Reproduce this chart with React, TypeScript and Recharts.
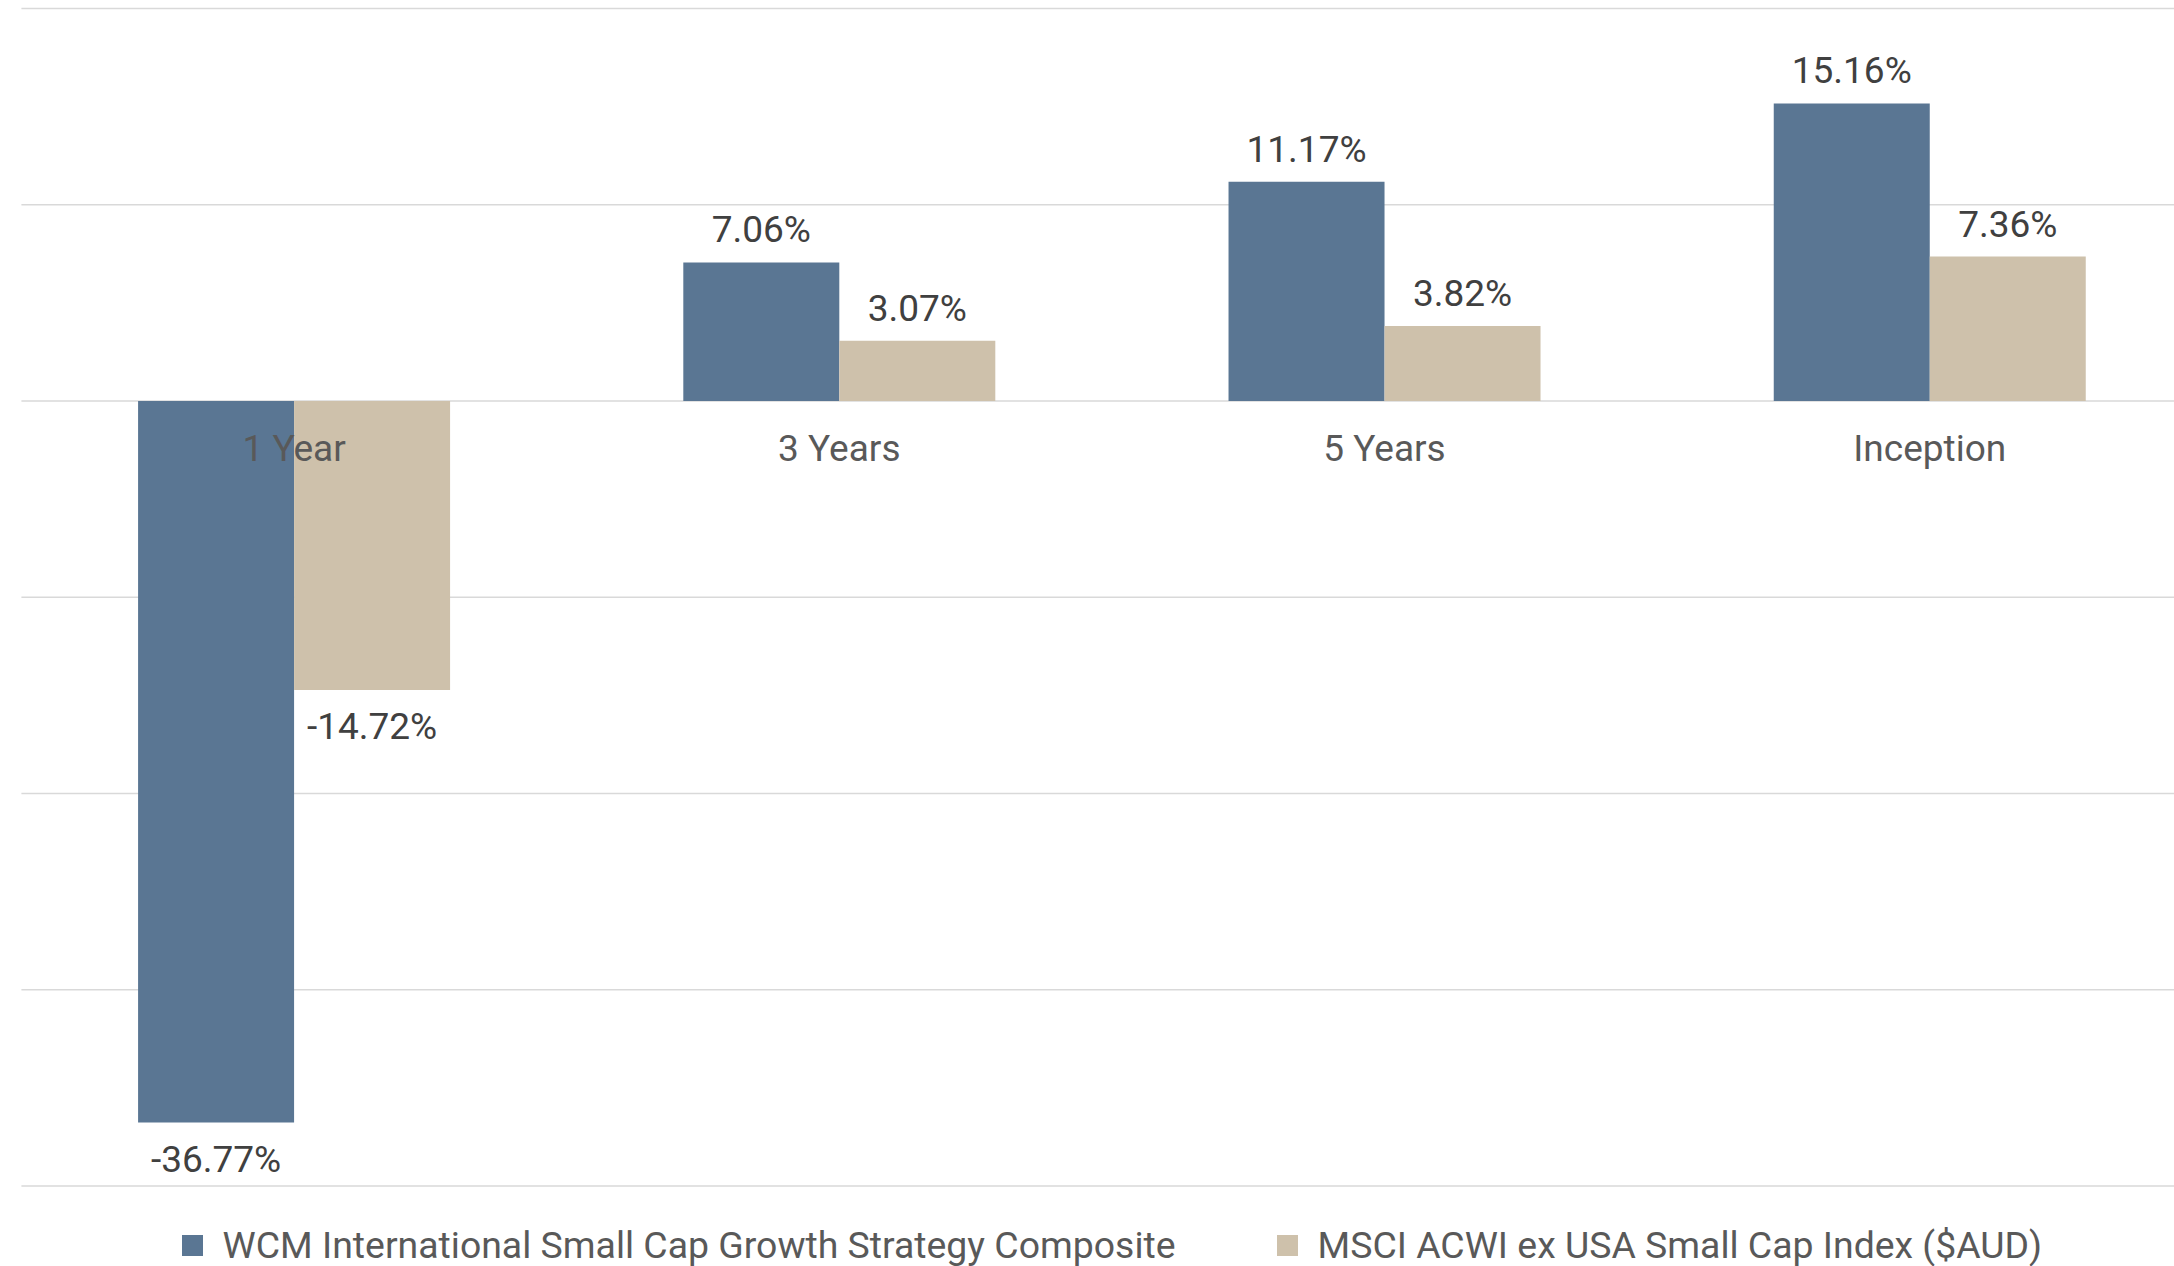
import React from 'react';
import { BarChart, Bar, XAxis, YAxis, CartesianGrid, Legend, LabelList } from 'recharts';

const categories = ['1 Year', '3 Years', '5 Years', 'Inception'];
const strategy = [-36.77, 7.06, 11.17, 15.16];
const benchmark = [-14.72, 3.07, 3.82, 7.36];
const yTicks = [-40, -30, -20, -10, 0, 10, 20];

const SERIES = [
  { key: 'strategy', name: 'WCM International Small Cap Growth Strategy Composite', color: '#5A7693' },
  { key: 'benchmark', name: 'MSCI ACWI ex USA Small Cap Index ($AUD)', color: '#CEC1AB' },
];

const data = categories.map((name, i) => ({ name, strategy: strategy[i], benchmark: benchmark[i] }));

const FONT = 'Roboto, "Noto Sans", sans-serif';

const ValueLabel = (props: any) => {
  const { viewBox, value } = props;
  if (!viewBox || value == null) return null;
  const { x, y, width, height } = viewBox;
  const top = Math.min(y, y + height);
  const bottom = Math.max(y, y + height);
  const ty = value >= 0 ? top - 20 : bottom + 23 + 26;
  return (
    <text x={x + width / 2} y={ty} textAnchor="middle" fill="#404040" fontSize={37} fontFamily={FONT}>
      {value.toFixed(2)}%
    </text>
  );
};

// category names sit just under the zero line, drawn from the benchmark bars
const CategoryLabel = (props: any) => {
  const { viewBox, value, index } = props;
  if (!viewBox) return null;
  const { x, y, height } = viewBox;
  const v = benchmark[index] ?? 0;
  const zero = v >= 0 ? Math.max(y, y + height) : Math.min(y, y + height);
  return (
    <text x={x} y={zero + 60} textAnchor="middle" fill="#595959" fontSize={37} fontFamily={FONT}>
      {value}
    </text>
  );
};

const LegendContent = () => (
  <div
    style={{
      height: 80,
      boxSizing: 'border-box',
      paddingTop: 38,
      display: 'flex',
      justifyContent: 'center',
      alignItems: 'center',
      fontFamily: FONT,
      fontSize: 37.4,
      color: '#595959',
      whiteSpace: 'nowrap',
    }}
  >
    {SERIES.map((s, i) => (
      <div key={s.key} style={{ display: 'flex', alignItems: 'center', marginLeft: i === 0 ? 0 : 101 }}>
        <span style={{ width: 21, height: 21, background: s.color, marginRight: 20, display: 'inline-block' }} />
        <span>{s.name}</span>
      </div>
    ))}
  </div>
);

export default function App() {
  return (
    <div style={{ position: 'absolute', left: 0, top: 0, width: 2174, height: 1266, overflow: 'hidden', background: '#fff' }}>
      <BarChart
        width={2224}
        height={1266}
        data={data}
        margin={{ top: 8.5, right: 21.7, left: 21.4, bottom: 0 }}
        barCategoryGap="21.4%"
        barGap={0}
      >
        <CartesianGrid vertical={false} stroke="#D9D9D9" strokeWidth={1.5} />
        <XAxis dataKey="name" hide />
        <YAxis hide domain={[-40, 20]} ticks={yTicks} />
        <Legend verticalAlign="bottom" content={LegendContent} />
        <Bar dataKey="strategy" name={SERIES[0].name} fill={SERIES[0].color} isAnimationActive={false}>
          <LabelList dataKey="strategy" content={ValueLabel} />
        </Bar>
        <Bar dataKey="benchmark" name={SERIES[1].name} fill={SERIES[1].color} isAnimationActive={false}>
          <LabelList dataKey="benchmark" content={ValueLabel} />
          <LabelList dataKey="name" content={CategoryLabel} />
        </Bar>
      </BarChart>
    </div>
  );
}
